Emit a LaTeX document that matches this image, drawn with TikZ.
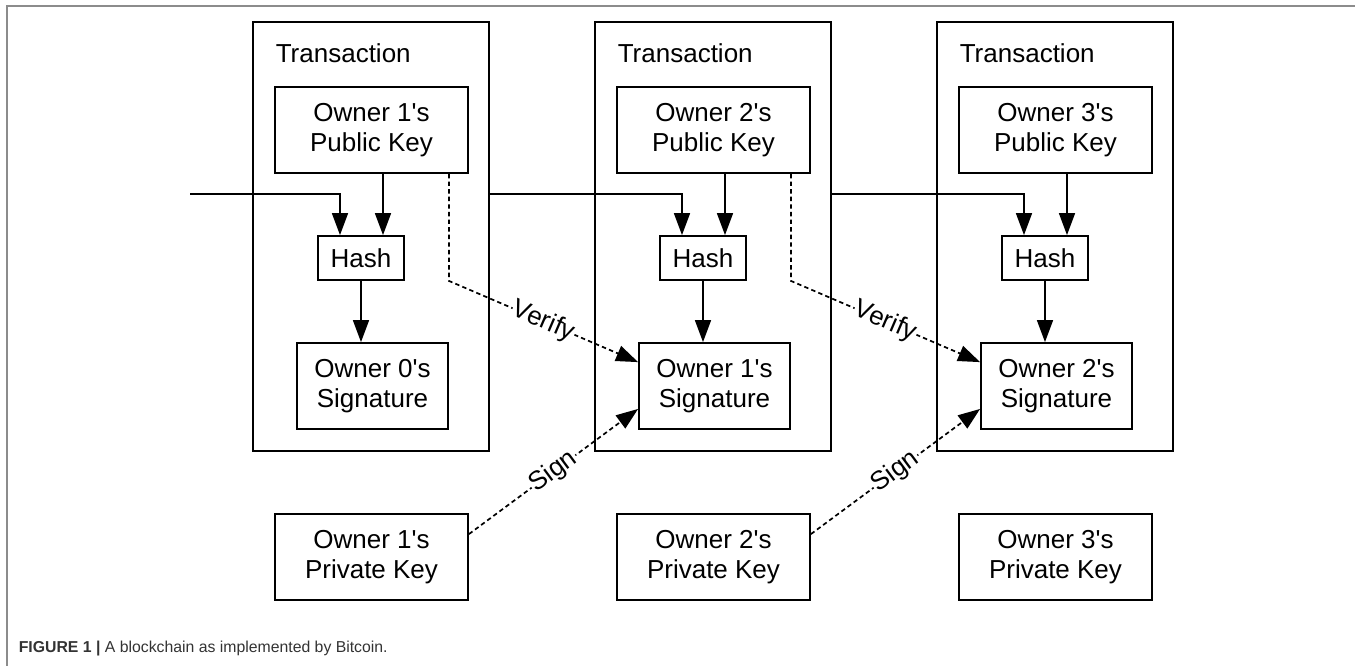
\documentclass[tikz,border=0pt]{standalone}
\usepackage{fontspec}
\setmainfont{Liberation Sans}[Ligatures=TeXOff]
\usetikzlibrary{arrows.meta, positioning}

\begin{document}
\begin{tikzpicture}[x=0.5pt, y=-0.5pt, line width=0.8pt,
 >={Triangle[length=11pt,width=8pt]},
 box/.style={draw, line width=0.9pt, inner sep=0pt, align=center,
   font=\fontsize{13pt}{15pt}\selectfont},
 tx box/.style={box, minimum width=118pt, minimum height=214.5pt},
 key node/.style={box, minimum width=96.5pt, minimum height=43pt},
 hash node/.style={box, minimum width=43pt, minimum height=22pt},
 sig node/.style={box, minimum width=75.5pt, minimum height=43pt},
 dashed arrow/.style={->, line width=0.85pt, dash pattern=on 2.2pt off 1.6pt},
 link label/.style={sloped, fill=white, inner sep=0.5pt,
   font=\fontsize{13pt}{15pt}\selectfont}]
  \useasboundingbox (0,0) rectangle (1355,666);
  \draw[line width=1pt, black!45] (1355,6) -- (7,6) -- (7,666);

  % one column per transaction
  \foreach \i/\j in {0/1, 1/2, 2/3} {
    \pgfmathsetmacro\x{342*\i}
    \node[tx box] (tx\i) at (371+\x,236.5) {};
    \node[anchor=base west, inner sep=0pt, font=\fontsize{13pt}{15pt}\selectfont]
      (title\i) at (275+\x,62) {Transaction};
    \node[key node] (pub\i) at (371.5+\x,130) {Owner \j's\\Public Key};
    \node[hash node] (hash\i) at (361+\x,258) {Hash};
    \node[sig node] (sig\i) at (372.5+\x,386) {Owner \i's\\Signature};
    \node[key node] (priv\i) at (371.5+\x,557) {Owner \j's\\Private Key};
  }
  \coordinate (start) at (190,194);

  \foreach \i in {0,1,2} {
    \draw[->] ([xshift=11pt]hash\i.north |- pub\i.south) -- ([xshift=11pt]hash\i.north);
    \draw[->] (hash\i) -- (hash\i |- sig\i.north);
  }
  \draw[->] (start) -| ([xshift=-10.5pt]hash0.north);
  \foreach \p/\i in {0/1, 1/2} {
    \draw[->] (tx\p.east |- start) -| ([xshift=-10.5pt]hash\i.north);
    \draw[dashed arrow] ([xshift=-10pt]pub\p.south east)
      -- ([xshift=-10pt]pub\p.south east |- hash\p.south)
      -- node[link label] {Verify} ([yshift=-10pt]sig\i.north west);
    \draw[dashed arrow] ([yshift=-10.5pt]priv\p.north east)
      -- node[link label] {Sign} ([yshift=10.5pt]sig\i.south west);
  }

  \node[anchor=base west, inner sep=0pt, text=black!80,
    font=\fontsize{7.9pt}{9pt}\selectfont] (caption) at (18,652)
    {\textbf{FIGURE 1 |} A blockchain as implemented by Bitcoin.};
\end{tikzpicture}
\end{document}
